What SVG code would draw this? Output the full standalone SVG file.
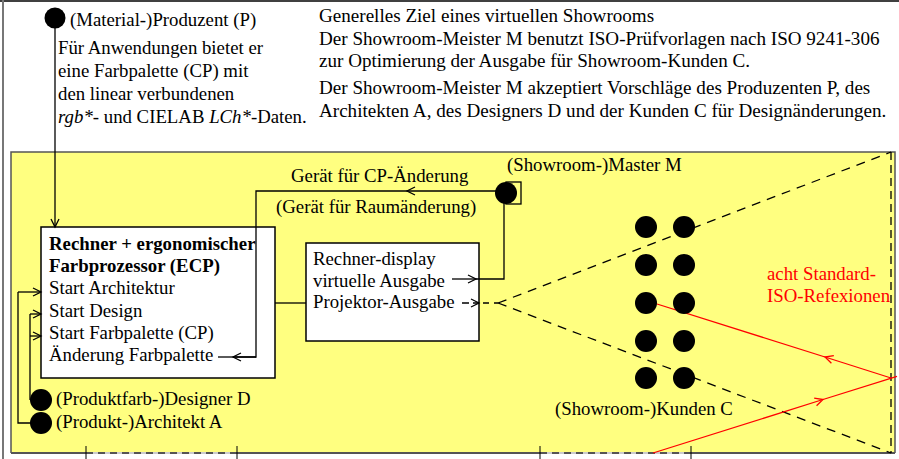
<svg xmlns="http://www.w3.org/2000/svg" width="899" height="459" viewBox="0 0 899 459">
<defs>
<marker id="arr" markerUnits="userSpaceOnUse" markerWidth="10" markerHeight="10" refX="8" refY="4" orient="auto" overflow="visible">
<path d="M0,0 L8,4 L0,8" fill="none" stroke="#000" stroke-width="1.3"/>
</marker>
<marker id="arrR" markerUnits="userSpaceOnUse" markerWidth="10" markerHeight="10" refX="8" refY="4" orient="auto" overflow="visible">
<path d="M0,0 L8,4 L0,8" fill="none" stroke="#f00" stroke-width="1.3"/>
</marker>
</defs>
<style>
text{font-family:"Liberation Serif","Times New Roman",serif;font-size:18.8px;fill:#000}
.b{font-weight:bold}
.red{fill:#f00}
.big{font-size:19.1px}
.ln{fill:none;stroke:#000;stroke-width:1.3}
.dash{fill:none;stroke:#000;stroke-width:1.3;stroke-dasharray:9 7}
.rl{fill:none;stroke:#f00;stroke-width:1.3}
.box{fill:#fff;stroke:#000;stroke-width:1.5}
.dot{fill:#000}
.tick{stroke:#000;stroke-width:1}
</style>
<rect x="0" y="0" width="899" height="459" fill="#fff"/>
<line x1="0" y1="1" x2="899" y2="1" stroke="#000" stroke-width="1.5"/>
<line x1="3" y1="0" x2="3" y2="459" stroke="#777" stroke-width="2"/>

<g id="room">
<rect x="11" y="152" width="884" height="301" fill="#ffff80"/>
<path d="M11,453 L11,152 L895,152 L895,453" fill="none" stroke="#555" stroke-width="1.5"/>
<line x1="11" y1="453" x2="86" y2="453" stroke="#555" stroke-width="2"/>
<line x1="237" y1="453" x2="540" y2="453" stroke="#555" stroke-width="2"/>
<line x1="691" y1="453" x2="895" y2="453" stroke="#555" stroke-width="2"/>
<line x1="86" y1="453" x2="237" y2="453" stroke="#ccc" stroke-width="2"/>
<line x1="86" y1="453" x2="237" y2="453" stroke="#555" stroke-width="2" stroke-dasharray="7 5"/>
<line x1="540" y1="453" x2="691" y2="453" stroke="#ccc" stroke-width="2"/>
<line x1="540" y1="453" x2="691" y2="453" stroke="#555" stroke-width="2" stroke-dasharray="7 5"/>
<line class="tick" x1="86" y1="446" x2="86" y2="459"/>
<line class="tick" x1="237" y1="446" x2="237" y2="459"/>
<line class="tick" x1="540" y1="446" x2="540" y2="459"/>
<line class="tick" x1="691" y1="446" x2="691" y2="459"/>
</g>

<g id="intro">
<text class="big" x="319" y="22">Generelles Ziel eines virtuellen Showrooms</text>
<text class="big" x="319" y="45">Der Showroom-Meister M benutzt ISO-Prüfvorlagen nach ISO 9241-306</text>
<text class="big" x="319" y="67">zur Optimierung der Ausgabe für Showroom-Kunden C.</text>
<text class="big" x="319" y="94">Der Showroom-Meister M akzeptiert Vorschläge des Produzenten P, des</text>
<text class="big" x="319" y="117">Architekten A, des Designers D und der Kunden C für Designänderungen.</text>
</g>

<g id="ecp">
<rect class="box" x="41" y="227" width="234" height="151"/>
<text class="b" x="49" y="250">Rechner + ergonomischer</text>
<text class="b" x="49" y="272">Farbprozessor (ECP)</text>
<text x="49" y="294">Start Architektur</text>
<text x="49" y="317">Start Design</text>
<text x="49" y="339">Start Farbpalette (CP)</text>
<text x="49" y="361">Änderung Farbpalette</text>
</g>

<g id="display">
<rect class="box" x="306" y="243" width="173" height="98"/>
<text x="313" y="265">Rechner-display</text>
<text x="313" y="287">virtuelle Ausgabe</text>
<text x="313" y="308">Projektor-Ausgabe</text>
</g>

<g id="connectors">
<line class="ln" x1="55" y1="28" x2="55" y2="227" marker-end="url(#arr)"/>
<line class="ln" x1="275" y1="303" x2="306" y2="303"/>
<path class="ln" d="M504,193 L504,279 L476,279"/>
<line class="ln" x1="452" y1="279" x2="476" y2="279" marker-end="url(#arr)"/>
<line class="dash" x1="462" y1="303" x2="479" y2="303" style="stroke-dasharray:7 4" marker-end="url(#arr)"/>
<line class="dash" x1="483" y1="303" x2="498" y2="303" style="stroke-dasharray:6 5"/>
<line class="dash" x1="498" y1="303" x2="891" y2="152"/>
<line class="dash" x1="498" y1="303" x2="891" y2="453"/>
<line class="dash" x1="891" y1="152" x2="891" y2="453" style="stroke-dasharray:8 5"/>
<line class="ln" x1="500" y1="191" x2="407" y2="191" marker-end="url(#arr)"/>
<path class="ln" d="M407,191 L256,191 L256,357 L233,357"/>
<line class="ln" x1="256" y1="357" x2="233" y2="357" marker-end="url(#arr)"/>
<line class="ln" x1="233" y1="357" x2="218" y2="357"/>
<path class="ln" d="M41,423 L18,423 L18,292"/>
<line class="ln" x1="18" y1="292" x2="41" y2="292" marker-end="url(#arr)"/>
<path class="ln" d="M30,400 L30,314"/>
<line class="ln" x1="30" y1="314" x2="41" y2="314" marker-end="url(#arr)"/>
<line class="ln" x1="30" y1="336" x2="41" y2="336" marker-end="url(#arr)"/>
<line class="rl" x1="891" y1="378" x2="825" y2="357" marker-end="url(#arrR)"/>
<line class="rl" x1="825" y1="357" x2="657" y2="304"/>
<line class="rl" x1="653" y1="453" x2="823" y2="399.5" marker-end="url(#arrR)"/>
<line class="rl" x1="823" y1="399.5" x2="897" y2="376.3"/>
</g>

<g id="producer">
<circle class="dot" cx="55" cy="18" r="10.5"/>
<text x="70" y="26">(Material-)Produzent (P)</text>
<text x="58" y="54">Für Anwendungen bietet er</text>
<text x="58" y="77">eine Farbpalette (CP) mit</text>
<text x="58" y="100">den linear verbundenen</text>
<text x="58" y="123"><tspan font-style="italic">rgb*</tspan>- und CIELAB <tspan font-style="italic">LCh*</tspan>-Daten.</text>
</g>

<g id="master">
<rect x="506" y="182" width="15" height="22" fill="none" stroke="#000" stroke-width="1.3"/>
<circle class="dot" cx="506" cy="193" r="11"/>
<text x="507" y="171">(Showroom-)Master M</text>
</g>

<g id="labels">
<text x="291" y="182">Gerät für CP-Änderung</text>
<text x="276" y="213">(Gerät für Raumänderung)</text>
</g>

<g id="designer">
<circle class="dot" cx="41" cy="400" r="11"/>
<text x="56" y="405">(Produktfarb-)Designer D</text>
</g>
<g id="architect">
<circle class="dot" cx="41" cy="423" r="11"/>
<text x="56" y="428">(Produkt-)Architekt A</text>
</g>

<g id="customers">
<circle class="dot" cx="646" cy="227" r="11"/>
<circle class="dot" cx="684" cy="227" r="11"/>
<circle class="dot" cx="646" cy="265" r="11"/>
<circle class="dot" cx="684" cy="265" r="11"/>
<circle class="dot" cx="646" cy="303" r="11"/>
<circle class="dot" cx="684" cy="303" r="11"/>
<circle class="dot" cx="646" cy="341" r="11"/>
<circle class="dot" cx="684" cy="341" r="11"/>
<circle class="dot" cx="646" cy="378" r="11"/>
<circle class="dot" cx="684" cy="378" r="11"/>
<text x="555" y="415">(Showroom-)Kunden C</text>
</g>

<g id="reflections">
<text class="red" x="767" y="280">acht Standard-</text>
<text class="red" x="767" y="302">ISO-Refexionen</text>
</g>
</svg>
